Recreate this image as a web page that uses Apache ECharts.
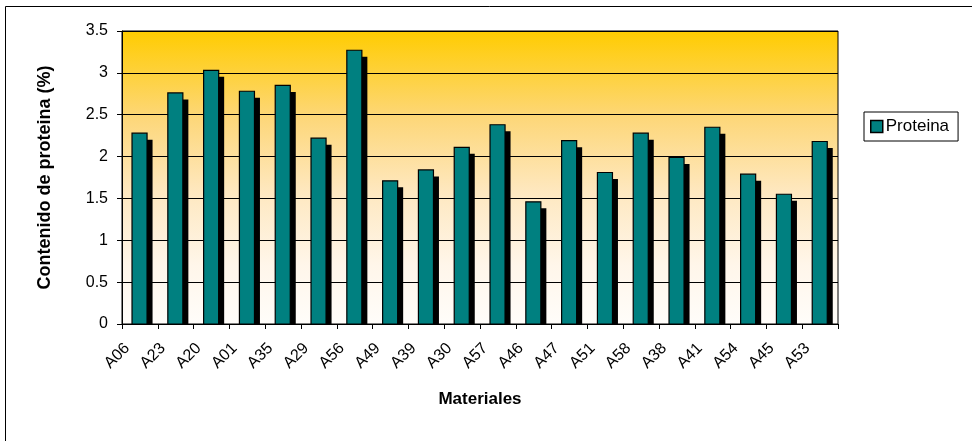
<!DOCTYPE html>
<html>
<head>
<meta charset="utf-8">
<script src="https://cdn.jsdelivr.net/npm/echarts@6/dist/echarts.min.js"></script>
<style>
html,body{margin:0;padding:0;background:#fff;}
#chart{width:972px;height:441px;}
</style>
</head>
<body>
<div id="chart"></div>
<script>
const categories = ['A06','A23','A20','A01','A35','A29','A56','A49','A39','A30','A57','A46','A47','A51','A58','A38','A41','A54','A45','A53'];
const proteina = [2.28, 2.76, 3.03, 2.78, 2.85, 2.22, 3.27, 1.71, 1.84, 2.11, 2.38, 1.46, 2.19, 1.81, 2.28, 1.99, 2.35, 1.79, 1.55, 2.18];
const seriesName = 'Proteina';
const yTitle = 'Contenido de proteina (%)';
const xTitle = 'Materiales';

const FONT = "Arial, 'Liberation Sans', sans-serif";
const chart = echarts.init(document.getElementById('chart'), null, {renderer: 'canvas'});

function renderBar(params, api) {
  const idx = api.value(0);
  const val = api.value(1);
  const top = api.coord([idx, val]);
  const base = api.coord([idx, 0]);
  const band = api.size([1, 0])[0];
  const w = band * 0.42;
  const left = top[0] - band * 0.22;
  const offX = 5.5, offY = 6.5;
  const h = base[1] - top[1];
  return {
    type: 'group',
    children: [
      {
        type: 'rect',
        shape: {x: left + offX, y: top[1] + offY, width: w, height: Math.max(0, h - offY)},
        style: {fill: '#000'}
      },
      {
        type: 'rect',
        shape: {x: left, y: top[1], width: w, height: h},
        style: {fill: '#008080', stroke: '#000', lineWidth: 1.2}
      }
    ]
  };
}

chart.setOption({
  animation: false,
  backgroundColor: '#fff',
  textStyle: {fontFamily: FONT},
  graphic: [{
    type: 'rect',
    shape: {x: 5.5, y: 6.5, width: 990, height: 460},
    style: {fill: 'none', stroke: '#000', lineWidth: 1},
    silent: true,
    z: -1
  }],
  grid: {
    left: 122, right: 134, top: 31, bottom: 117,
    show: true,
    borderColor: '#000',
    borderWidth: 1,
    backgroundColor: new echarts.graphic.LinearGradient(0, 0, 0, 1, [
      {offset: 0, color: '#FFCC00'},
      {offset: 0.3, color: '#FDD77A'},
      {offset: 0.55, color: '#FEE8C0'},
      {offset: 0.8, color: '#FFF6EA'},
      {offset: 1, color: '#FFFDFA'}
    ])
  },
  legend: {
    show: true,
    left: 864, top: 112,
    orient: 'vertical',
    padding: [6, 9, 6, 6],
    borderColor: '#000',
    borderWidth: 1,
    backgroundColor: '#fff',
    itemWidth: 12, itemHeight: 12, itemGap: 5,
    textStyle: {fontFamily: FONT, fontSize: 17, color: '#000', padding: [0, 0, 0, -2]},
    data: [{name: seriesName, icon: 'rect', itemStyle: {color: '#008080', borderColor: '#000', borderWidth: 1.5}}]
  },
  xAxis: {
    type: 'category',
    data: categories,
    boundaryGap: true,
    name: xTitle,
    nameLocation: 'middle',
    nameGap: 67,
    nameTextStyle: {fontFamily: FONT, fontSize: 17, fontWeight: 'bold', color: '#000'},
    axisLine: {show: true, lineStyle: {color: '#000', width: 1}},
    axisTick: {show: true, length: 5, inside: false, lineStyle: {color: '#000'}},
    axisLabel: {
      rotate: 45, interval: 0, margin: 9,
      fontFamily: FONT, fontSize: 16, color: '#000',
      padding: [0, 18, 0, 0]
    },
    splitLine: {show: false}
  },
  yAxis: {
    type: 'value',
    min: 0, max: 3.5, interval: 0.5,
    name: yTitle,
    nameLocation: 'middle',
    nameGap: 68,
    nameRotate: 90,
    nameTextStyle: {fontFamily: FONT, fontSize: 18, fontWeight: 'bold', color: '#000'},
    axisLine: {show: true, lineStyle: {color: '#000', width: 1}},
    axisTick: {show: true, length: 5, lineStyle: {color: '#000'}},
    axisLabel: {margin: 14, fontFamily: FONT, fontSize: 16, color: '#000'},
    splitLine: {show: true, lineStyle: {color: '#000', width: 1}}
  },
  series: [{
    name: seriesName,
    type: 'custom',
    renderItem: renderBar,
    itemStyle: {color: '#008080'},
    encode: {x: 0, y: 1},
    data: proteina.map((v, i) => [i, v]),
    z: 3
  }]
});
</script>
</body>
</html>
